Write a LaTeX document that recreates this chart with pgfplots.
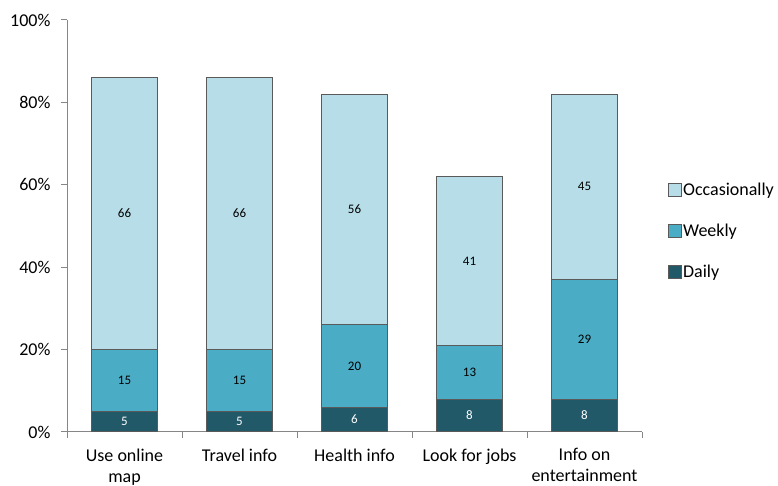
\documentclass[border=0pt]{standalone}
\usepackage{fontspec}
\setmainfont{Carlito}
\usepackage{pgfplots}
\usepackage{pgfplotstable}
\pgfplotsset{compat=1.18}

\definecolor{cDaily}{HTML}{215968}
\definecolor{cWeekly}{HTML}{4BACC6}
\definecolor{cOcc}{HTML}{B7DEE8}
\definecolor{cEdge}{HTML}{5A5A5A}
\definecolor{cAxis}{HTML}{868686}

% columns: category index, daily, weekly, occasionally (percent)
\pgfplotstableread{
x daily weekly occ
0 5 15 66
1 5 15 66
2 6 20 56
3 8 13 41
4 8 29 45
}\usage

\pgfplotsset{
  frame/.style={
    at={(67pt,54pt)}, anchor=south west,
    scale only axis, width=575pt, height=412pt,
    xmin=-0.5, xmax=4.5, ymin=0, ymax=100,
    /pgf/number format/assume math mode=true,
  },
  seglabel/.style={only marks, mark=none, point meta=explicit,
    nodes near coords,
    every node near coord/.append style={anchor=center,
      font=\fontsize{13}{15}\selectfont}},
}

\begin{document}
\begin{tikzpicture}[x=1pt,y=1pt]
\useasboundingbox (0,0) rectangle (778,486);
\begin{axis}[
  frame,
  ybar stacked, bar width=66pt,
  axis x line=bottom, axis y line=left,
  axis line style={draw=cAxis, line width=1pt, -},
  ytick={0,20,...,100},
  yticklabel={\pgfmathprintnumber{\tick}\%},
  xtick={0,...,4},
  xticklabels={{Use online\\map},{Travel info},{Health info},{Look for jobs},{Info on\\entertainment}},
  major x tick style={draw=none},
  minor xtick={-0.5,0.5,...,4.5},
  minor x tick style={draw=cAxis, line width=1pt},
  y tick style={draw=cAxis, line width=1pt},
  tick align=outside, major tick length=6pt, minor tick length=6pt,
  ticklabel style={font=\fontsize{18}{21}\selectfont},
  xticklabel style={align=center, anchor=north, yshift=-7pt},
  yticklabel style={xshift=-7pt},
  legend style={draw=none, fill=none, at={(1.039,0.614)}, anchor=north west,
     font=\fontsize{18}{22}\selectfont, row sep=23pt,
     nodes={inner xsep=1.5pt}},
  legend cell align=left,
  reverse legend,
  legend image code/.code={\draw[#1] (0pt,-6.5pt) rectangle (13pt,6.5pt);},
]
\addplot[fill=cDaily, draw=cEdge, line width=1pt] table[x=x, y=daily] {\usage};
\addlegendentry{Daily}
\addplot[fill=cWeekly, draw=cEdge, line width=1pt] table[x=x, y=weekly] {\usage};
\addlegendentry{Weekly}
\addplot[fill=cOcc, draw=cEdge, line width=1pt] table[x=x, y=occ] {\usage};
\addlegendentry{Occasionally}
\end{axis}
% value labels, centred in each segment
\begin{axis}[frame, hide axis]
\addplot[seglabel, every node near coord/.append style={text=white}]
  table[x=x, y expr=\thisrow{daily}/2, meta=daily] {\usage};
\addplot[seglabel]
  table[x=x, y expr=\thisrow{daily}+\thisrow{weekly}/2, meta=weekly] {\usage};
\addplot[seglabel]
  table[x=x, y expr=\thisrow{daily}+\thisrow{weekly}+\thisrow{occ}/2, meta=occ] {\usage};
\end{axis}
\end{tikzpicture}
\end{document}
